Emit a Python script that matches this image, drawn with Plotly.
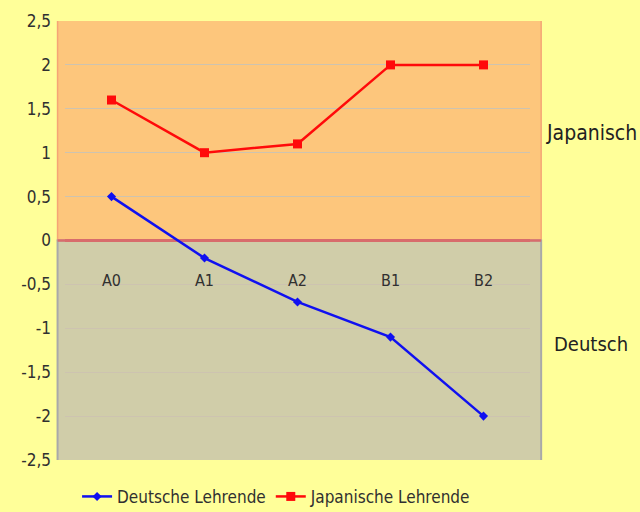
import plotly.graph_objects as go

categories = ["A0", "A1", "A2", "B1", "B2"]
deutsche = [0.5, -0.2, -0.7, -1.1, -2.0]
japanische = [1.6, 1.0, 1.1, 2.0, 2.0]
y_ticks = [2.5, 2, 1.5, 1, 0.5, 0, -0.5, -1, -1.5, -2, -2.5]
band_labels = ["Japanisch", "Deutsch"]

FONT = "DejaVu Sans Condensed, Liberation Sans Narrow, Arial Narrow, sans-serif"
x_idx = list(range(len(categories)))
tick_text = [("%g" % v).replace(".", ",") for v in y_ticks]

fig = go.Figure()
fig.add_trace(go.Scatter(
    x=x_idx, y=deutsche, mode="lines+markers", name="Deutsche Lehrende",
    line=dict(color="#1010f0", width=2.5),
    marker=dict(symbol="diamond", size=7, color="#1010f0"),
))
fig.add_trace(go.Scatter(
    x=x_idx, y=japanische, mode="lines+markers", name="Japanische Lehrende",
    line=dict(color="#ff0a0a", width=2.5),
    marker=dict(symbol="square", size=9, color="#ff0a0a"),
))

shapes = [
    dict(type="rect", xref="paper", yref="y", x0=-0.016, x1=1.024, y0=0, y1=2.52,
         fillcolor="#fdc67c", line=dict(color="#f5a576", width=1.5), layer="below"),
    dict(type="rect", xref="paper", yref="y", x0=-0.016, x1=1.024, y0=-2.56, y1=0,
         fillcolor="#d0cda9", line=dict(color="#a9a9a9", width=2), layer="below"),
    dict(type="line", xref="paper", yref="y", x0=-0.016, x1=1.024, y0=0, y1=0,
         line=dict(color="#d86c6c", width=2.5), layer="below"),
]

annotations = []
for i, c in enumerate(categories):
    annotations.append(dict(x=i, y=-0.45, xref="x", yref="y", text=c, showarrow=False,
                            font=dict(family=FONT, size=16, color="#303030")))
annotations.append(dict(x=1.031, y=1.23, xref="paper", yref="y", text=band_labels[0],
                        showarrow=False, xanchor="left",
                        font=dict(family=FONT, size=21, color="#222")))
annotations.append(dict(x=1.048, y=-1.18, xref="paper", yref="y", text=band_labels[1],
                        showarrow=False, xanchor="left",
                        font=dict(family=FONT, size=20, color="#222")))

fig.update_layout(
    width=640, height=512,
    paper_bgcolor="#ffff99", plot_bgcolor="rgba(0,0,0,0)",
    margin=dict(l=65, r=110, t=21, b=52, autoexpand=False),
    shapes=shapes, annotations=annotations,
    showlegend=True,
    legend=dict(orientation="h", x=0.455, xanchor="center", y=-0.084, yanchor="middle",
                font=dict(family=FONT, size=17, color="#303030"),
                bgcolor="rgba(0,0,0,0)", itemwidth=30, tracegroupgap=0),
    xaxis=dict(range=[-0.5, 4.5], showticklabels=False, showgrid=False,
               zeroline=False, showline=False, fixedrange=True),
    yaxis=dict(range=[-2.5, 2.5], tickvals=y_ticks, ticktext=tick_text, showgrid=True,
               gridcolor="#cdc3b0", gridwidth=1, zeroline=True,
               zerolinecolor="#d86c6c", zerolinewidth=2.5, showline=False,
               ticks="", ticklabelstandoff=13,
               tickfont=dict(family=FONT, size=17, color="#303030")),
)

fig.write_html("out.html")
